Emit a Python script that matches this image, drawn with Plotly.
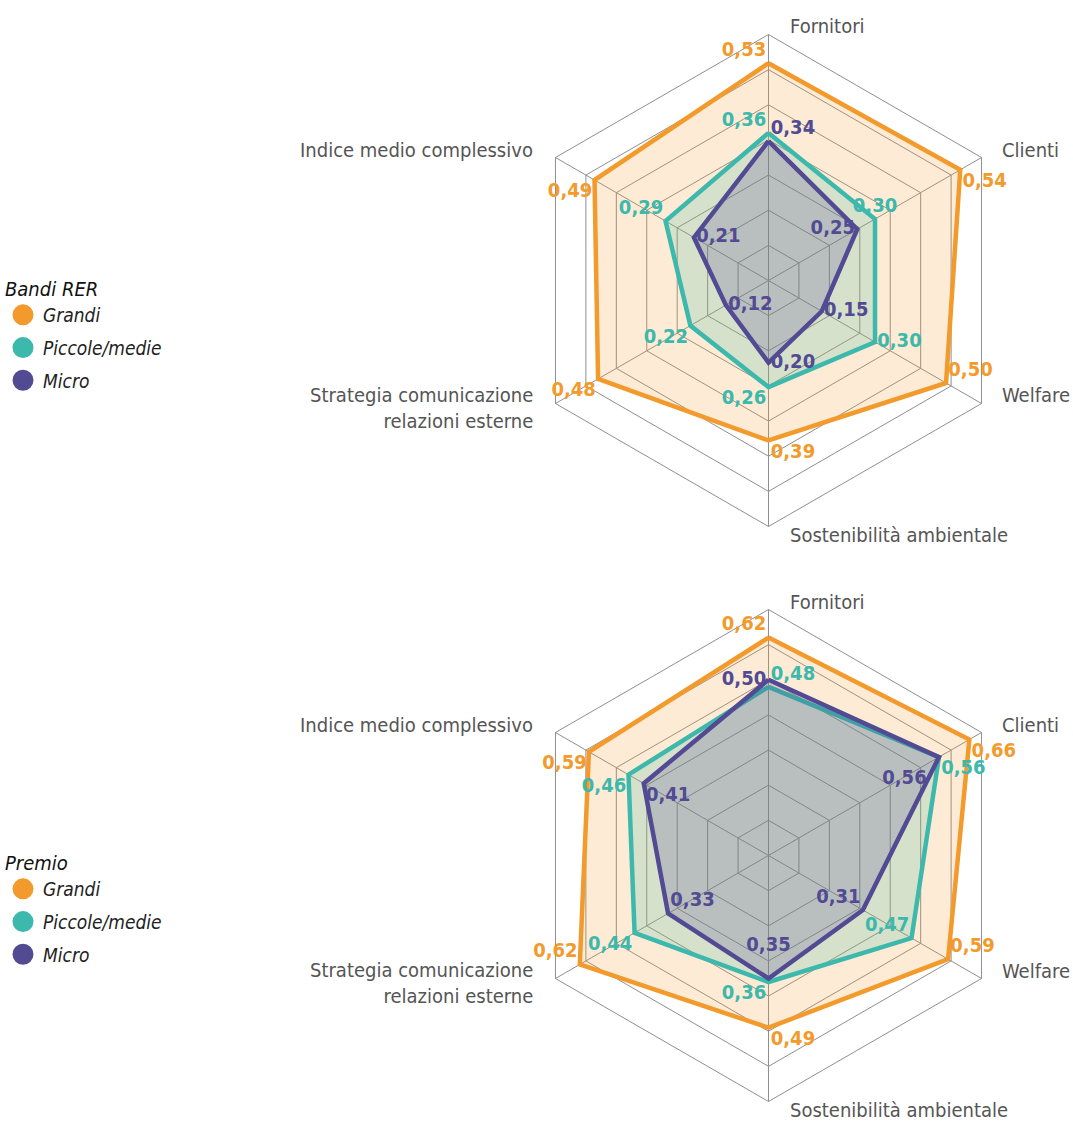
import math
import plotly.graph_objects as go

# ---------------- data ----------------
categories = ["Fornitori", "Clienti", "Welfare", "Sostenibilità ambientale",
              "Strategia comunicazione<br>relazioni esterne", "Indice medio complessivo"]
series_names = ["Grandi", "Piccole/medie", "Micro"]

bandi_grandi = [0.53, 0.54, 0.50, 0.39, 0.48, 0.49]
bandi_piccole = [0.36, 0.30, 0.30, 0.26, 0.22, 0.29]
bandi_micro = [0.34, 0.25, 0.15, 0.20, 0.12, 0.21]

premio_grandi = [0.62, 0.66, 0.59, 0.49, 0.62, 0.59]
premio_piccole = [0.48, 0.56, 0.47, 0.36, 0.44, 0.46]
premio_micro = [0.50, 0.56, 0.31, 0.35, 0.33, 0.41]

legend_titles = ["Bandi RER", "Premio"]

# ---------------- layout helpers ----------------
PAGE_W, PAGE_H = 1073, 1121
OFF = 0                      # body margin removed via post_script
FW, FH = PAGE_W - 2 * OFF, PAGE_H - 2 * OFF


def px(x, y):
    """page pixel -> paper coordinates"""
    return (x - OFF) / FW, 1 - (y - OFF) / FH


COLORS = ["#F39A2C", "#3DB8AC", "#524A93"]
FILLS = ["rgba(243,154,44,0.2)", "rgba(61,184,172,0.2)", "rgba(82,74,147,0.22)"]
GRID = "#8f8f8f"
FONT = "Liberation Sans Narrow, DejaVu Sans Condensed, Roboto, sans-serif"

pos_top = [
    ["top left", "bottom right", "top right", "bottom right", "bottom left", "bottom left"],
    ["top left", "top center", "middle right", "bottom left", "bottom left", "top left"],
    ["top right", "middle left", "middle right", "middle right", "middle right", "middle right"],
]
pos_bot = [
    ["top left", "bottom right", "top right", "bottom right", "top left", "bottom left"],
    ["top right", "bottom right", "top left", "bottom left", "bottom left", "bottom left"],
    ["middle left", "bottom left", "top left", "top center", "top right", "bottom right"],
]
# invisible marker sizes (only used to push labels away from their vertex)
msize_top = [[2] * 6, [2] * 6, [2] * 6]
msize_bot = [[2] * 6, [2] * 6, [2, 18, 2, 34, 2, 2]]


def fmt(v):
    return f"{v:.2f}".replace(".", ",")


fig = go.Figure()

panels = [
    ("polar", [bandi_grandi, bandi_piccole, bandi_micro], pos_top, msize_top, "legend"),
    ("polar2", [premio_grandi, premio_piccole, premio_micro], pos_bot, msize_bot, "legend2"),
]

for subplot, vals_list, pos_list, ms_list, leg in panels:
    for i, vals in enumerate(vals_list):
        r = list(vals) + [vals[0]]
        th = categories + [categories[0]]
        txt = [fmt(v) for v in vals] + [""]
        tp = pos_list[i] + [pos_list[i][0]]
        ms = ms_list[i] + [ms_list[i][0]]
        fig.add_trace(go.Scatterpolar(
            r=r, theta=th, subplot=subplot, mode="lines+markers+text",
            line=dict(color=COLORS[i], width=4.5), fill="toself", fillcolor=FILLS[i],
            marker=dict(size=ms, opacity=0, color=COLORS[i]),
            text=txt, textposition=tp, cliponaxis=False,
            textfont=dict(color=COLORS[i], size=20, family=FONT, weight="bold"),
            showlegend=False, hoverinfo="skip"))
    for i, name in enumerate(series_names):
        fig.add_trace(go.Scatterpolar(
            r=[None], theta=[categories[0]], subplot=subplot, mode="markers",
            marker=dict(color=COLORS[i], size=16, line=dict(color=COLORS[i], width=5)),
            name=name, legend=leg, legendgroup=f"{leg}-{i}",
            showlegend=True, hoverinfo="skip"))

TOP = (768.5, 280.5, 246)    # page centre x, y and radius of each hexagon
BOT = (768.5, 855.5, 246)


def polar_cfg(cx, cy, R, rmax, n):
    x0, y0 = px(cx - R, cy + R)
    x1, y1 = px(cx + R, cy - R)
    return dict(
        domain=dict(x=[x0, x1], y=[y0, y1]), gridshape="linear", bgcolor="white",
        radialaxis=dict(range=[0, rmax], tickvals=[rmax * k / n for k in range(1, n + 1)],
                        showticklabels=False, ticks="", showline=False,
                        gridcolor=GRID, gridwidth=1, layer="below traces"),
        angularaxis=dict(direction="clockwise", rotation=90, showticklabels=False,
                         ticks="", showline=True, linecolor=GRID, linewidth=1,
                         gridcolor=GRID, gridwidth=1, layer="below traces"),
    )


def legend_cfg(title, top_y):
    lx, ly = px(3, top_y)
    return dict(x=lx, y=ly, xanchor="left", yanchor="top",
                title=dict(text=title, font=dict(size=20, color="#111", family=FONT, style="italic")),
                font=dict(size=19, color="#222", family=FONT, style="italic"),
                bgcolor="rgba(0,0,0,0)", tracegroupgap=5)


fig.update_layout(
    width=FW, height=FH, margin=dict(l=0, r=0, t=0, b=0),
    paper_bgcolor="white", plot_bgcolor="white",
    polar=polar_cfg(*TOP, 0.6, 7),
    polar2=polar_cfg(*BOT, 0.7, 7),
    legend=legend_cfg(legend_titles[0], 270),
    legend2=legend_cfg(legend_titles[1], 844),
)

# category labels placed beside each outer vertex (offsets in px)
label_offsets = [(19, -8, "left"), (18, -8, "left"), (18, -8, "left"),
                 (19, 8, "left"), (-20, 4, "right"), (-20, -8, "right")]

for (cx, cy, R) in (TOP, BOT):
    for k, (cat, (dx, dy, anc)) in enumerate(zip(categories, label_offsets)):
        ang = math.radians(60 * k)
        vx, vy = cx + R * math.sin(ang), cy - R * math.cos(ang)
        ax, ay = px(vx + dx, vy + dy)
        fig.add_annotation(
            x=ax, y=ay, xref="paper", yref="paper",
            text=cat, showarrow=False, xanchor=anc, yanchor="middle", align=anc,
            font=dict(size=20, color="#555", family=FONT))

fig.write_html("out.html",
               config={"displayModeBar": False},
               post_script="document.body.style.margin='0';document.body.style.overflow='hidden';")
